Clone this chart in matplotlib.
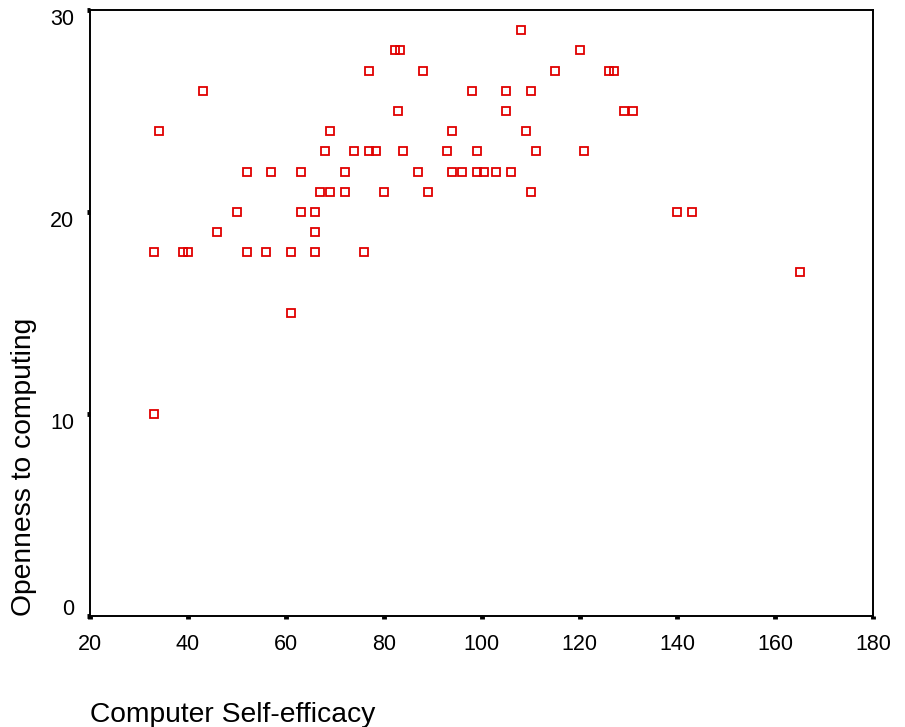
import matplotlib
matplotlib.use("Agg")
import matplotlib.pyplot as plt
import matplotlib.transforms as mtransforms

plt.rcParams['font.family'] = ['Liberation Sans', 'DejaVu Sans']

# computer self-efficacy score vs openness to computing, one entry per respondent
self_efficacy = [
    108,
    82.4, 83.3, 120,
    77, 88, 115, 126, 127,
    43, 98, 105, 110,
    83, 105, 129, 131,
    34, 69, 94, 109,
    68, 74, 77, 78.4, 84, 93, 99, 111, 121,
    52, 57, 63, 72, 87, 94, 96, 99, 100.5, 103, 106,
    67, 69, 72, 80, 89, 110,
    50, 63, 66, 140, 143,
    46, 66,
    33, 39, 40, 52, 56, 61, 66, 76,
    165,
    61,
    33,
]
openness = [
    29,
    28, 28, 28,
    27, 27, 27, 27, 27,
    26, 26, 26, 26,
    25, 25, 25, 25,
    24, 24, 24, 24,
    23, 23, 23, 23, 23, 23, 23, 23, 23,
    22, 22, 22, 22, 22, 22, 22, 22, 22, 22, 22,
    21, 21, 21, 21, 21, 21,
    20, 20, 20, 20, 20,
    19, 19,
    18, 18, 18, 18, 18, 18, 18, 18,
    17,
    15,
    10,
]

x_ticks = [20, 40, 60, 80, 100, 120, 140, 160, 180]
y_ticks = [0, 10, 20, 30]

fig = plt.figure(figsize=(9.05, 7.27), dpi=100)
ax = fig.add_axes([90 / 905, 1 - 615.7 / 727, 783.3 / 905, 605.7 / 727])

ax.plot(self_efficacy, openness, linestyle='none', marker='s', markersize=5.4,
        markerfacecolor='none', markeredgecolor='#e00000', markeredgewidth=1.3)

ax.set_xlim(20, 180)
ax.set_ylim(0, 30)
ax.set_xticks(x_ticks)
ax.set_yticks(y_ticks)

for side in ['left', 'right', 'top', 'bottom']:
    ax.spines[side].set_linewidth(1.4)
    ax.spines[side].set_color('black')

ax.tick_params(axis='x', direction='out', length=2.5, width=3.5, pad=11,
               labelsize=15.5, colors='black')
ax.tick_params(axis='y', direction='out', length=2.5, width=3.5, pad=9,
               labelsize=15.5, colors='black')

# y labels sit a little off their ticks, the bottom one nudged up
for val, lab in zip(y_ticks, ax.get_yticklabels()):
    dy = 6 / 72 if val == 0 else -5 / 72
    lab.set_transform(lab.get_transform() +
                      mtransforms.ScaledTranslation(0, dy, fig.dpi_scale_trans))

ax.set_xlabel('Computer Self-efficacy', fontsize=20.3, loc='left')
ax.xaxis.set_label_coords(0, -0.142)
ax.set_ylabel('Openness to computing', fontsize=20.3, loc='bottom')
ax.yaxis.set_label_coords(-0.068, 0)

fig.savefig('out.png', dpi=100)
